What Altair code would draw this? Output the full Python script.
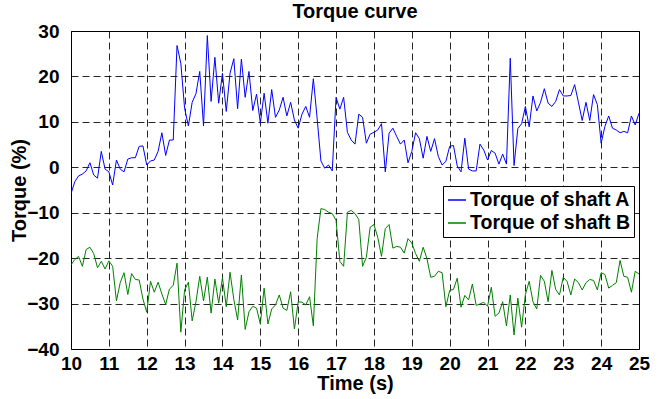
import altair as alt
import pandas as pd

# sampling grid of the recording (s)
time_s = [round(10.0 + 0.1 * i, 1) for i in range(151)]

shaft_a = [
    -5.8, -3.2, -1.9, -1.5, -0.8, 1.0, -1.7, -2.4, 3.5, -0.4,
    -1.0, -3.9, 1.6, -0.4, -1.0, 1.8, 2.1, 2.1, 4.6, 4.7,
    0.5, 1.4, 1.6, 3.5, 7.6, 2.6, 6.0, 6.0, 26.8, 22.9,
    13.0, 9.1, 14.3, 16.2, 21.1, 9.1, 29.0, 14.5, 24.2, 14.1,
    20.7, 12.3, 20.7, 23.9, 12.9, 23.8, 15.4, 21.1, 12.5, 16.1,
    9.7, 16.3, 9.7, 17.1, 11.0, 12.6, 15.4, 11.3, 14.3, 10.4,
    8.6, 11.7, 13.4, 11.0, 19.5, 10.8, 1.4, -0.2, 0.5, -0.8,
    15.4, 12.8, 15.4, 7.7, 6.0, 5.1, 11.7, 11.0, 5.3, 7.3,
    7.7, 8.2, 9.6, -1.0, 7.5, 8.6, 6.8, 5.1, 6.0, 1.0,
    3.5, 7.6, 6.3, 2.0, 6.8, 3.5, 6.3, 2.4, 0.5, 1.3,
    4.6, 4.8, 0.3, -1.0, 6.4, -0.4, -0.8, -0.8, 5.1, 3.8,
    1.6, 3.7, 3.1, 0.7, 2.9, 0.7, 24.0, 0.4, 8.5, 9.6,
    13.4, 8.9, 15.7, 12.4, 14.3, 17.3, 14.1, 13.4, 14.5, 17.1,
    15.7, 15.7, 15.8, 18.2, 14.3, 10.3, 14.3, 10.3, 16.0, 13.8,
    5.3, 9.0, 11.3, 8.6, 8.2, 7.6, 7.9, 7.6, 11.3, 9.3,
    11.9,
]

shaft_b = [
    -21.5, -20.3, -19.6, -21.8, -18.1, -17.6, -19.0, -22.1, -20.7, -22.4,
    -20.6, -21.8, -29.4, -25.4, -23.2, -28.0, -23.4, -24.7, -24.8, -29.0,
    -31.9, -25.1, -27.5, -25.3, -27.9, -30.2, -26.8, -26.0, -21.1, -36.3,
    -27.0, -25.3, -33.8, -29.6, -24.0, -29.4, -24.2, -32.1, -24.6, -29.9,
    -24.3, -30.7, -23.1, -29.1, -33.6, -23.7, -35.7, -31.8, -30.6, -31.0,
    -34.5, -26.6, -34.5, -31.2, -30.3, -28.1, -31.0, -31.5, -27.4, -35.6,
    -29.6, -29.7, -30.3, -28.5, -34.9, -15.7, -9.1, -9.3, -9.9, -10.2,
    -11.7, -20.7, -21.8, -9.9, -9.5, -10.2, -11.5, -21.8, -19.8, -13.2,
    -12.6, -15.4, -19.6, -13.5, -12.6, -17.8, -17.4, -17.6, -18.9, -15.7,
    -16.7, -19.0, -20.7, -17.6, -20.1, -24.2, -24.0, -22.9, -23.2, -30.7,
    -27.1, -26.9, -24.4, -30.8, -28.2, -29.2, -25.7, -30.4, -30.1, -29.7,
    -30.6, -26.4, -32.8, -32.1, -29.6, -34.9, -28.1, -36.9, -28.8, -35.2,
    -28.0, -25.1, -29.6, -31.2, -23.8, -25.1, -29.6, -22.7, -26.9, -28.1,
    -24.2, -25.1, -28.1, -24.6, -25.4, -27.0, -25.4, -24.7, -24.9, -27.0,
    -23.2, -23.6, -26.6, -26.0, -25.4, -20.5, -24.0, -24.2, -27.5, -22.9,
    -23.5,
]

series_names = ["Torque of shaft A", "Torque of shaft B"]
series_colors = ["#0000ff", "#008000"]
x_ticks = list(range(10, 26))
y_ticks = list(range(-40, 31, 10))

df = pd.concat([
    pd.DataFrame({"t": time_s, "v": shaft_a, "s": series_names[0], "o": 0}),
    pd.DataFrame({"t": time_s, "v": shaft_b, "s": series_names[1], "o": 1}),
])

FONT = "Liberation Sans"
common = dict(
    labelFont=FONT, labelFontSize=19, labelFontWeight="bold", labelColor="black",
    titleFont=FONT, titleFontSize=20, titleFontWeight="bold", titleColor="black",
    grid=True, gridColor="black", gridDash=[7, 4], gridOpacity=0.85, gridWidth=1,
    domain=False, ticks=False, format="d",
)

chart = alt.Chart(df).mark_line(strokeWidth=1, clip=True).encode(
    x=alt.X("t:Q", scale=alt.Scale(domain=[10, 25], nice=False, zero=False),
            axis=alt.Axis(values=x_ticks, title="Time (s)", labelPadding=5,
                          titlePadding=0, labelFlush=False, **common)),
    y=alt.Y("v:Q", scale=alt.Scale(domain=[-40, 30], nice=False),
            axis=alt.Axis(values=y_ticks, title="Torque (%)", labelPadding=12,
                          titlePadding=-3, **common)),
    color=alt.Color("s:N", scale=alt.Scale(domain=series_names, range=series_colors),
                    legend=alt.Legend(title=None, orient="none", legendX=372, legendY=155,
                                      symbolType="stroke", symbolSize=324, symbolStrokeWidth=1.5,
                                      labelFont=FONT, labelFontSize=19.5, labelFontWeight="bold",
                                      labelColor="black", labelLimit=400,
                                      fillColor="white", strokeColor="black",
                                      padding=4, rowPadding=3, labelOffset=3)),
    order="o:Q",
).properties(
    width=568, height=318,
    title=alt.TitleParams("Torque curve", font=FONT, fontSize=20, fontWeight="bold",
                          color="black", offset=0),
    autosize=alt.AutoSizeParams(type="none"),
    padding={"left": 71, "top": 31, "right": 23, "bottom": 50},
    background="white",
).configure_view(
    stroke="black", strokeWidth=1
)

chart.save("out.html", embed_options={"renderer": "svg", "actions": False})
